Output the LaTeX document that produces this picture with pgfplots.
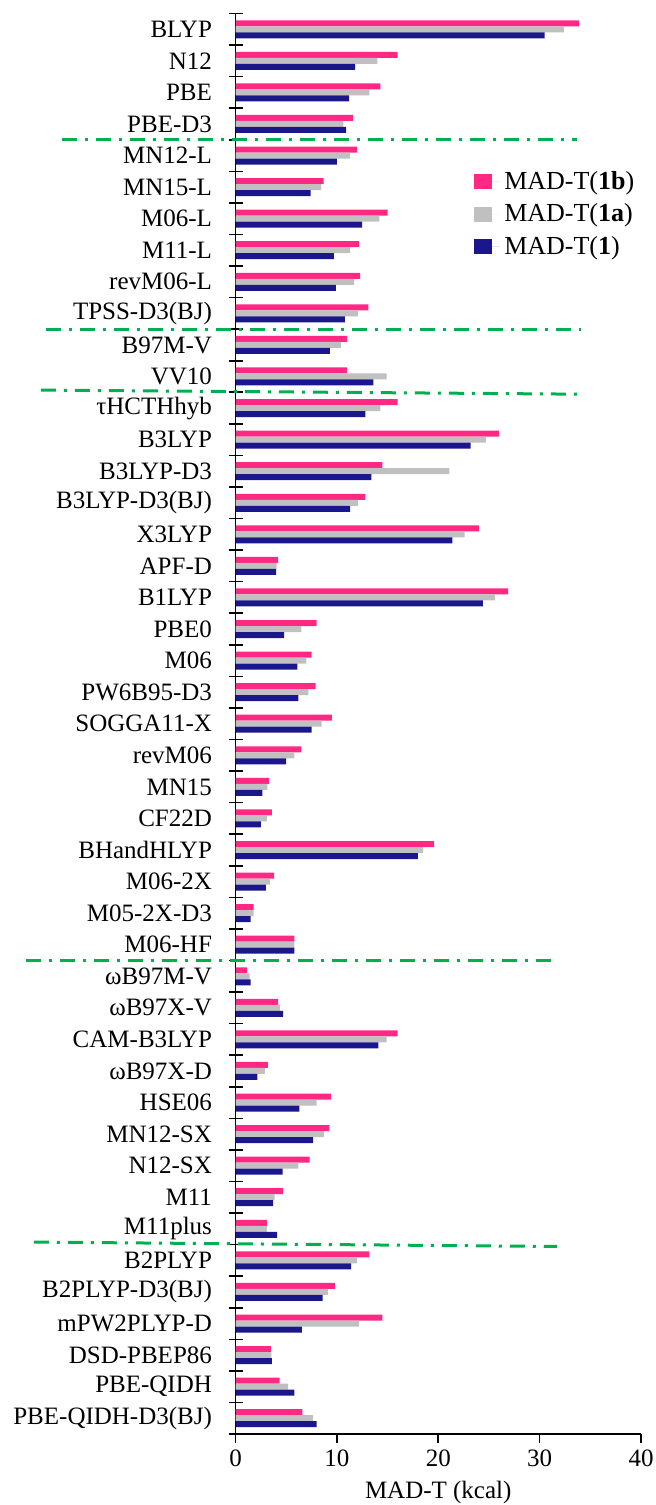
\documentclass[border=0pt]{standalone}
\usepackage{fontspec}
\setmainfont{Liberation Serif}
\usepackage{pgfplots}
\usepackage{pgfplotstable}
\pgfplotsset{compat=1.18}
\usetikzlibrary{calc}
\definecolor{cpink}{RGB}{255,40,130}
\definecolor{cgray}{RGB}{192,192,192}
\definecolor{cblue}{RGB}{26,22,140}
\definecolor{cgreen}{RGB}{0,176,80}

% y: 44 = BLYP (top) ... 0 = PBE-QIDH-D3(BJ) (bottom)
\pgfplotstableread{
y  t1b   t1a   t1
44 33.9  32.4  30.5
43 16.0  14.0  11.8
42 14.3  13.2  11.2
41 11.6  10.65 10.9
40 12.0  11.3  10.0
39 8.7   8.45  7.4
38 15.0  14.2  12.5
37 12.2  11.3  9.7
36 12.3  11.7  9.9
35 13.1  12.1  10.8
34 11.0  10.4  9.3
33 11.0  14.9  13.6
32 16.0  14.3  12.8
31 26.0  24.7  23.2
30 14.5  21.1  13.4
29 12.8  12.1  11.3
28 24.0  22.6  21.4
27 4.2   4.05  4.0
26 26.9  25.6  24.4
25 8.0   6.5   4.8
24 7.5   7.0   6.1
23 7.9   7.2   6.2
22 9.5   8.5   7.5
21 6.5   5.8   5.0
20 3.3   3.15  2.65
19 3.6   3.1   2.5
18 19.6  18.5  18.0
17 3.8   3.4   3.0
16 1.8   1.8   1.5
15 5.8   5.8   5.8
14 1.15  1.4   1.5
13 4.2   4.4   4.7
12 16.0  14.9  14.1
11 3.2   2.9   2.15
10 9.4   8.0   6.3
9  9.25  8.75  7.65
8  7.3   6.2   4.65
7  4.7   3.85  3.7
6  3.1   3.1   4.1
5  13.2  12.0  11.4
4  9.8   9.1   8.6
3  14.5  12.2  6.55
2  3.5   3.55  3.6
1  4.35  5.2   5.8
0  6.6   7.65  8.0
}\datatab

\begin{document}
\begin{tikzpicture}
\begin{axis}[
  scale only axis,
  width=202.75pt, height=710.25pt,
  xmin=0, xmax=40, ymin=-0.5, ymax=44.5,
  xbar, bar width=3pt,
  axis x line*=bottom, axis y line*=left,
  axis line style={line width=0.8pt, -},
  xtick={0,10,20,30,40},
  xtick align=outside,
  major tick length=4.5pt,
  minor tick length=7pt,
  ytick={0,...,44},
  yticklabels={PBE-QIDH-D3(BJ), PBE-QIDH, DSD-PBEP86, mPW2PLYP-D, B2PLYP-D3(BJ), B2PLYP, M11plus, M11, N12-SX, MN12-SX, HSE06, ωB97X-D, CAM-B3LYP, ωB97X-V, ωB97M-V, M06-HF, M05-2X-D3, M06-2X, BHandHLYP, CF22D, MN15, revM06, SOGGA11-X, PW6B95-D3, M06, PBE0, B1LYP, APF-D, X3LYP, B3LYP-D3(BJ), B3LYP-D3, B3LYP, τHCTHhyb, VV10, B97M-V, TPSS-D3(BJ), revM06-L, M11-L, M06-L, MN15-L, MN12-L, PBE-D3, PBE, N12, BLYP},
  minor ytick={-0.5,0.5,...,44.5},
  ytick align=center,
  every major y tick/.style={draw=none},
  tick style={line width=0.8pt, black},
  yticklabel style={xshift=-6pt},
  clip=false,
  font=\fontsize{12.5}{15}\selectfont,
  /pgf/number format/assume math mode=true,
  xlabel={MAD-T (kcal)},
  legend style={at={(axis description cs:1.009,0.895)}, anchor=north east,
    draw=none, fill=none, row sep=1.8pt, font=\fontsize{13}{15}\selectfont},
  legend cell align=left,
  legend image code/.code={\fill[#1] (0pt,-3.75pt) rectangle (9.2pt,3.75pt); \path (0pt,0pt) -- (13.2pt,0pt);},
]
\addplot[fill=cpink, draw=none, bar shift=3pt] table[x=t1b, y=y] {\datatab};
\addplot[fill=cgray, draw=none, bar shift=0pt] table[x=t1a, y=y] {\datatab};
\addplot[fill=cblue, draw=none, bar shift=-3pt] table[x=t1, y=y] {\datatab};
\legend{MAD-T(\textbf{1b}), MAD-T(\textbf{1a}), MAD-T(\textbf{1})}
\tikzset{gl/.style={cgreen, line width=1.5pt, dash pattern=on 7.5pt off 4pt on 1.5pt off 4pt}}
\draw[gl] (axis cs:-17.1,40.5) -- (axis cs:33.7,40.5);
\draw[gl] (axis cs:-18.7,34.5) -- (axis cs:34.1,34.5);
\draw[gl] (axis cs:-19.2,32.57) -- (axis cs:33.9,32.44);
\draw[gl] (axis cs:-20.7,14.5) -- (axis cs:31.7,14.5);
\draw[gl] (axis cs:-19.9,5.58) -- (axis cs:31.7,5.44);
\end{axis}
\pgfresetboundingbox
\path ($(current axis.south west)+(-117.75pt,-35.5pt)$) rectangle ($(current axis.north east)+(7.5pt,6.75pt)$);
\end{tikzpicture}
\end{document}
